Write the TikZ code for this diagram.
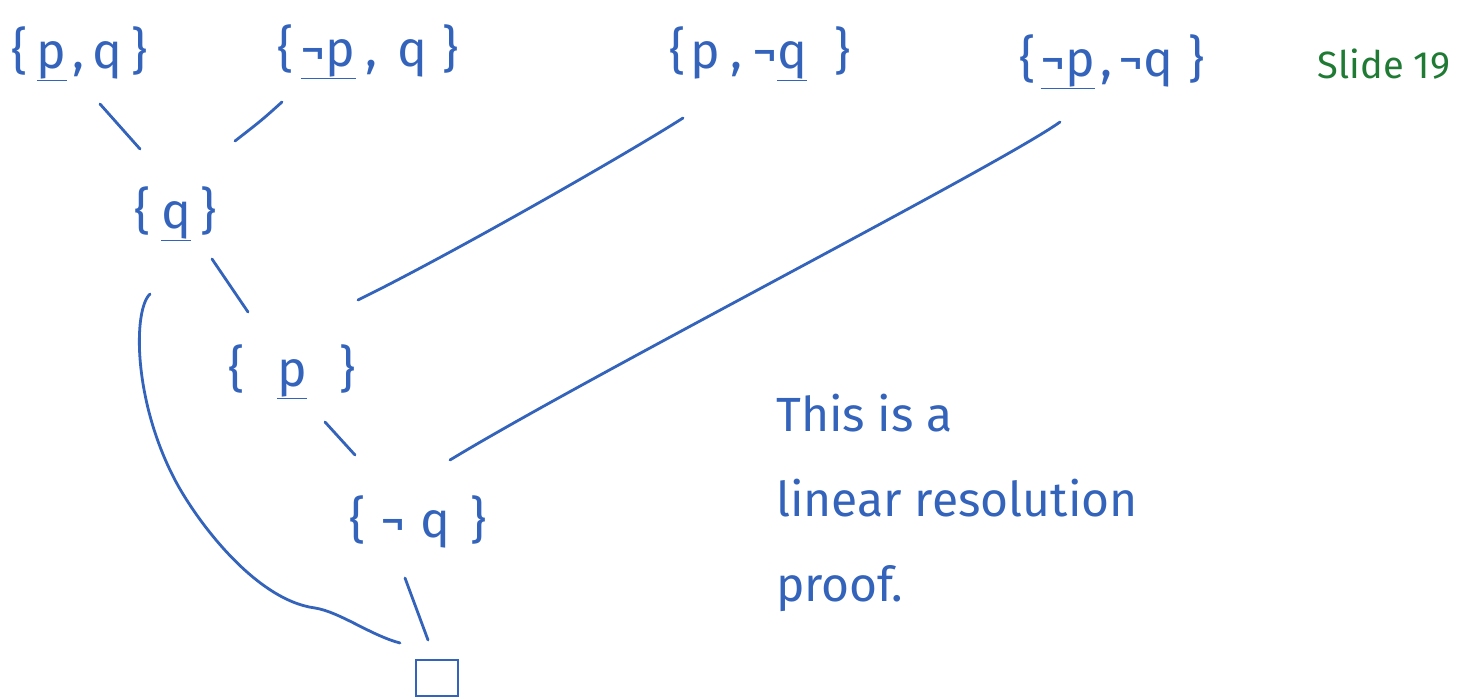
\documentclass[tikz,border=0pt]{standalone}
\usepackage{fontspec}
\setmainfont{Fira Sans}
\usetikzlibrary{calc}
\definecolor{ink}{HTML}{3363BA}
\definecolor{greenink}{HTML}{1F7A34}
\newcommand{\gp}[1]{\hspace{#1em}}
\begin{document}
\begin{tikzpicture}[x=1pt,y=-1pt,
  clause/.style={text=ink,font=\fontsize{50}{56}\selectfont,inner sep=0pt},
  edge/.style={draw=ink,line width=2.8pt,line cap=round,line join=round}]
\useasboundingbox (0,0) rectangle (1463,700);
% clauses
\node[clause] (A) at (80,54) {\{\gp{.18}\underline{p}\gp{.12},\gp{.15}q\gp{.2}\}};
\node[clause] (B) at (368,52) {\{\gp{.15}\underline{¬p}\gp{.2},\gp{.4}q\gp{.3}\}};
\node[clause] (C) at (760,54) {\{\gp{.1}p\gp{.2},\gp{.2}¬\underline{q}\gp{.55}\}};
\node[clause] (D) at (1112,62) {\{\gp{.1}\underline{¬p}\gp{.1},\gp{.12}¬q\gp{.3}\}};
\node[clause] (Q) at (176,214) {\{\gp{.2}\underline{q}\gp{.2}\}};
\node[clause] (P) at (292,372) {\{\gp{.65}\underline{p}\gp{.65}\}};
\node[clause] (NQ) at (418,522) {\{\gp{.3}¬\gp{.3}q\gp{.4}\}};
\node[draw=ink,line width=2.8pt,minimum width=42pt,minimum height=36pt,inner sep=0pt] (E) at (437,678) {};
% label
\node[text=greenink,font=\fontsize{38}{44}\selectfont,inner sep=0pt] (S) at (1384,64) {Slide 19};
\node[text=ink,anchor=north west,align=left,inner sep=0pt,
  font=\fontsize{48}{85}\selectfont] (T) at (776,394) {This\ is\ a\\linear resolution\\proof.};
% connectors
\draw[edge] ($(A)+(20,50)$) -- ($(Q)+(-36,-65)$);
\draw[edge] ($(B)+(-86,50)$) .. controls (262,120) .. ($(Q)+(59,-73)$);
\draw[edge] ($(Q)+(36,45)$) -- ($(P)+(-44,-60)$);
\draw[edge] ($(C)+(-77,64)$) .. controls (630,152) and (450,255) .. ($(P)+(66,-72)$);
\draw[edge] ($(P)+(33,50)$) -- ($(NQ)+(-63,-67)$);
\draw[edge] ($(D)+(-52,60)$) .. controls (1000,165) and (590,375) .. ($(NQ)+(32,-62)$);
\draw[edge] ($(Q)+(-26,80)$) .. controls (133,310) and (133,400) .. (175,480)
  .. controls (196,520) and (255,600) .. (315,608)
  .. controls (340,612) and (370,635) .. ($(E)+(-37,-35)$);
\draw[edge] ($(NQ)+(-13,56)$) -- ($(E)+(-9,-38)$);
\end{tikzpicture}
\end{document}
